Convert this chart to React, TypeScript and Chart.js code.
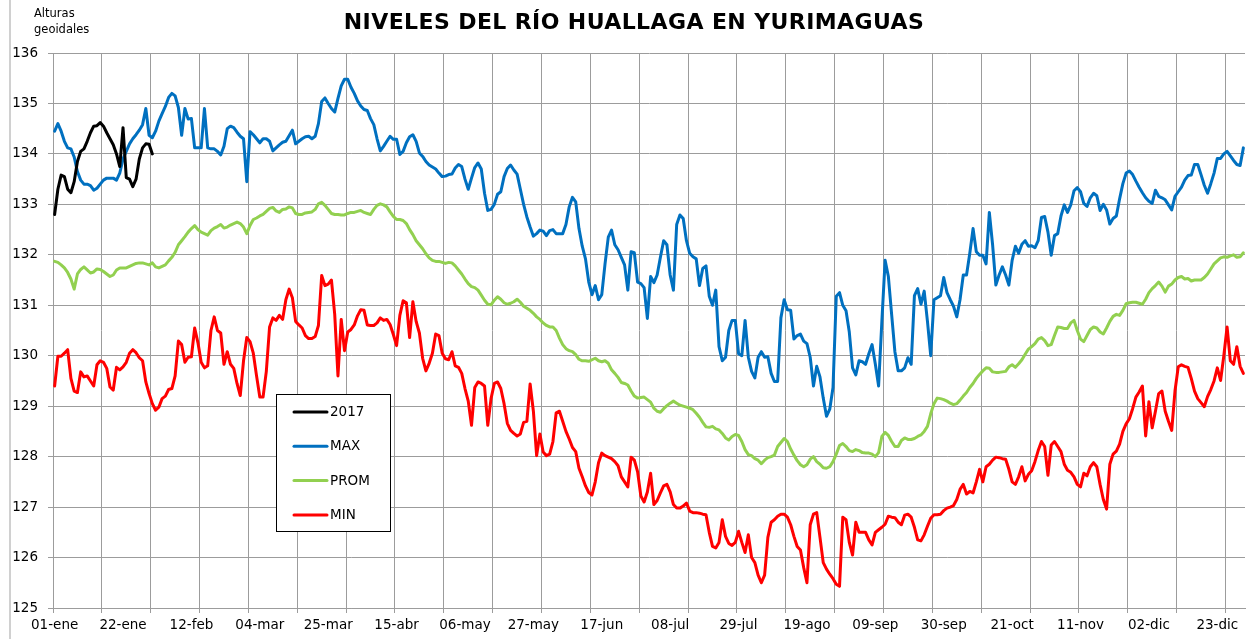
import React, { useEffect, useRef } from "react";
import { Chart, registerables } from "chart.js";

Chart.register(...registerables);

// ---- categories (leap-year calendar, one point per day) ----
const MONTH_NAMES = ["ene", "feb", "mar", "abr", "may", "jun", "jul", "ago", "sep", "oct", "nov", "dic"];
const MONTH_LENGTHS = [31, 29, 31, 30, 31, 30, 31, 31, 30, 31, 30, 31];
const categories: string[] = [];
MONTH_LENGTHS.forEach((n, m) => {
  for (let d = 1; d <= n; d++) categories.push(`${String(d).padStart(2, "0")}-${MONTH_NAMES[m]}`);
});

const LABEL_STEP = 21; // tick label every 21 days
const GRID_STEP = 15; // vertical grid line every 15 days
const Y_MIN = 125;
const Y_MAX = 136;

// ---- series ----
const serie2017 = [
  132.8, 133.3, 133.58, 133.55, 133.3, 133.23, 133.45, 133.85, 134.05, 134.1,
  134.25, 134.42, 134.55, 134.56, 134.62, 134.55, 134.42, 134.3, 134.18, 134.0,
  133.75, 134.52, 133.53, 133.5, 133.35, 133.5, 133.9, 134.12, 134.2, 134.19,
  134.0,
];

const serieMax = [
  134.45, 134.6, 134.45, 134.25, 134.12, 134.1, 133.94, 133.65, 133.48, 133.4,
  133.4, 133.37, 133.28, 133.32, 133.4, 133.48, 133.52, 133.52, 133.52, 133.48,
  133.62, 133.9, 134.05, 134.2, 134.3, 134.38, 134.47, 134.58, 134.9, 134.37,
  134.32, 134.45, 134.65, 134.8, 134.94, 135.12, 135.2, 135.15, 134.92, 134.37,
  134.9, 134.69, 134.7, 134.12, 134.12, 134.12, 134.9, 134.12, 134.1, 134.1,
  134.05, 133.98, 134.15, 134.5, 134.55, 134.52, 134.43, 134.35, 134.3, 133.45,
  134.44, 134.38, 134.3, 134.22, 134.3, 134.3, 134.25, 134.06, 134.12, 134.18,
  134.23, 134.25, 134.36, 134.47, 134.2, 134.25, 134.3, 134.34, 134.35, 134.3,
  134.35, 134.6, 135.04, 135.11, 135.0, 134.9, 134.83, 135.1, 135.35, 135.48,
  135.48, 135.32, 135.2, 135.05, 134.95, 134.88, 134.86, 134.7, 134.58, 134.3,
  134.06, 134.15, 134.25, 134.35, 134.29, 134.29, 133.99, 134.05, 134.22, 134.34,
  134.38, 134.25, 134.02, 133.95, 133.85, 133.78, 133.74, 133.7, 133.62, 133.55,
  133.56, 133.59, 133.6, 133.72, 133.79, 133.75, 133.5, 133.3, 133.52, 133.73,
  133.82, 133.7, 133.22, 132.88, 132.9, 133.0, 133.2, 133.25, 133.55, 133.71,
  133.78, 133.68, 133.6, 133.3, 133.0, 132.75, 132.55, 132.37, 132.42, 132.49,
  132.47, 132.38, 132.48, 132.5, 132.42, 132.42, 132.42, 132.6, 132.95, 133.14,
  133.05, 132.52, 132.17, 131.92, 131.46, 131.21, 131.39, 131.11, 131.21, 131.82,
  132.35, 132.49, 132.2, 132.1, 131.95, 131.8, 131.3, 132.06, 132.04, 131.46,
  131.43, 131.35, 130.74, 131.57, 131.45, 131.6, 131.95, 132.28, 132.2, 131.6,
  131.3, 132.6, 132.79, 132.72, 132.28, 132.03, 131.96, 131.92, 131.39, 131.73,
  131.78, 131.18, 131.0, 131.3, 130.18, 129.9, 129.97, 130.5, 130.7, 130.7,
  130.04, 130.0, 130.7, 129.97, 129.69, 129.56, 129.97, 130.08, 129.97, 129.98,
  129.65, 129.49, 129.49, 130.75, 131.11, 130.91, 130.9, 130.33, 130.4, 130.43,
  130.29, 130.24, 129.97, 129.4, 129.79, 129.58, 129.16, 128.8, 128.94, 129.37,
  131.18, 131.25, 131.0, 130.89, 130.47, 129.76, 129.62, 129.9, 129.88, 129.83,
  130.04, 130.22, 129.83, 129.4, 130.68, 131.89, 131.57, 130.82, 130.08, 129.7,
  129.7, 129.76, 129.96, 129.83, 131.19, 131.33, 131.02, 131.28, 130.68, 130.0,
  131.11, 131.15, 131.19, 131.55, 131.25, 131.11, 130.98, 130.77, 131.11, 131.6,
  131.6, 132.03, 132.52, 132.06, 131.99, 131.99, 131.82, 132.84, 132.2, 131.4,
  131.6, 131.76, 131.6, 131.4, 131.89, 132.17, 132.03, 132.21, 132.28, 132.17,
  132.18, 132.14, 132.28, 132.74, 132.76, 132.45, 131.99, 132.38, 132.42, 132.77,
  132.99, 132.84, 132.99, 133.27, 133.33, 133.25, 133.02, 132.96, 133.13, 133.22,
  133.17, 132.88, 133.0, 132.89, 132.61, 132.72, 132.77, 133.11, 133.41, 133.62,
  133.66, 133.59, 133.46, 133.34, 133.23, 133.13, 133.06, 133.02, 133.28, 133.16,
  133.13, 133.09, 132.99, 132.89, 133.16, 133.25, 133.34, 133.48, 133.57, 133.58,
  133.79, 133.79, 133.59, 133.38, 133.22, 133.41, 133.62, 133.91, 133.91, 134.0,
  134.05, 133.96, 133.87, 133.79, 133.77, 134.12,
];

const serieProm = [
  131.87, 131.85, 131.8, 131.74, 131.65, 131.52, 131.32, 131.62, 131.71, 131.76,
  131.7, 131.64, 131.66, 131.72, 131.71, 131.67, 131.62, 131.57, 131.6, 131.7,
  131.74, 131.74, 131.74, 131.77, 131.8, 131.83, 131.84, 131.84, 131.82, 131.8,
  131.84, 131.76, 131.74, 131.77, 131.8, 131.88, 131.95, 132.05, 132.2, 132.28,
  132.36, 132.45, 132.52, 132.58, 132.5, 132.45, 132.42, 132.39, 132.48, 132.53,
  132.56, 132.6, 132.53, 132.55, 132.59, 132.62, 132.65, 132.62, 132.55, 132.42,
  132.58, 132.7, 132.73, 132.77, 132.8, 132.86, 132.92, 132.94, 132.87, 132.84,
  132.9, 132.91, 132.95, 132.93, 132.82, 132.8, 132.8, 132.83, 132.84, 132.85,
  132.9, 133.01, 133.04, 132.98, 132.9, 132.82, 132.8, 132.8, 132.79, 132.79,
  132.82, 132.84, 132.84, 132.86, 132.88, 132.84, 132.82, 132.8, 132.9, 132.98,
  133.01, 132.99, 132.95, 132.85, 132.76, 132.7, 132.7, 132.68, 132.62, 132.5,
  132.4, 132.28, 132.2, 132.12, 132.02, 131.94, 131.89, 131.87, 131.87, 131.85,
  131.83, 131.85, 131.84, 131.78, 131.7, 131.62, 131.52, 131.43, 131.37, 131.35,
  131.3, 131.2, 131.1, 131.02, 131.01, 131.1, 131.17, 131.12, 131.05, 131.02,
  131.04, 131.07, 131.12, 131.06, 130.98, 130.94, 130.9, 130.84, 130.77, 130.72,
  130.65, 130.6, 130.57, 130.57, 130.5, 130.35, 130.22, 130.14, 130.1, 130.08,
  130.02, 129.93, 129.9, 129.9, 129.89, 129.92, 129.95, 129.9, 129.88, 129.9,
  129.85, 129.72, 129.65, 129.57, 129.47, 129.45, 129.42, 129.3, 129.2, 129.16,
  129.17, 129.18, 129.13, 129.08, 128.96, 128.9, 128.88, 128.95, 129.01, 129.06,
  129.1, 129.06, 129.02, 129.0, 128.98, 128.96, 128.93, 128.86, 128.78, 128.68,
  128.59, 128.58, 128.6, 128.55, 128.53, 128.46, 128.37, 128.33, 128.4, 128.44,
  128.42, 128.3, 128.14, 128.04, 128.02, 127.96, 127.93, 127.86, 127.93, 127.98,
  128.0, 128.03, 128.2, 128.28, 128.36, 128.3, 128.15, 128.03, 127.92, 127.84,
  127.8, 127.84, 127.95, 128.0, 127.9, 127.85, 127.78, 127.77, 127.8, 127.9,
  128.05, 128.22, 128.26, 128.2, 128.12, 128.1, 128.14, 128.12, 128.08, 128.07,
  128.07, 128.05, 128.0, 128.08, 128.4, 128.48, 128.42, 128.3, 128.2, 128.2,
  128.32, 128.37, 128.34, 128.34, 128.36, 128.4, 128.43, 128.5, 128.6, 128.85,
  129.05, 129.16, 129.15, 129.13, 129.1, 129.06, 129.03, 129.05, 129.12, 129.2,
  129.27, 129.37, 129.45, 129.55, 129.63, 129.7, 129.76, 129.75, 129.68, 129.67,
  129.67, 129.68, 129.69, 129.78, 129.82, 129.77, 129.84, 129.92, 130.03, 130.13,
  130.18, 130.24, 130.33, 130.36, 130.3, 130.2, 130.22, 130.4, 130.57, 130.56,
  130.54, 130.54, 130.65, 130.7, 130.5, 130.33, 130.28, 130.4, 130.52, 130.57,
  130.55, 130.47, 130.43, 130.55, 130.68, 130.78, 130.82, 130.8, 130.9, 131.03,
  131.05, 131.06, 131.06, 131.04, 131.02, 131.12, 131.25, 131.33, 131.39, 131.46,
  131.38, 131.26, 131.38, 131.42, 131.5, 131.55, 131.57, 131.52, 131.53, 131.48,
  131.5, 131.5, 131.5, 131.55, 131.62, 131.72, 131.82, 131.88, 131.94, 131.96,
  131.95, 131.98, 132.0, 131.95, 131.96, 132.04,
];

const serieMin = [
  129.4, 129.99, 129.99, 130.05, 130.12, 129.55, 129.3, 129.27, 129.68, 129.58,
  129.6, 129.5, 129.4, 129.82, 129.9, 129.87, 129.75, 129.38, 129.32, 129.77,
  129.72, 129.78, 129.87, 130.05, 130.12, 130.06, 129.96, 129.9, 129.48, 129.25,
  129.05, 128.92, 128.98, 129.15, 129.2, 129.33, 129.35, 129.6, 130.29, 130.22,
  129.87, 129.97, 129.98, 130.55, 130.26, 129.87, 129.76, 129.8, 130.5, 130.77,
  130.5, 130.45, 129.83, 130.08, 129.83, 129.75, 129.45, 129.21, 129.9, 130.36,
  130.28, 130.05, 129.6, 129.18, 129.18, 129.69, 130.57, 130.75, 130.7, 130.8,
  130.72, 131.11, 131.32, 131.15, 130.68, 130.61, 130.55, 130.4, 130.34, 130.34,
  130.38, 130.6, 131.59, 131.39, 131.42, 131.5, 130.82, 129.6, 130.72, 130.1,
  130.47, 130.52, 130.61, 130.79, 130.91, 130.9, 130.61, 130.6, 130.6, 130.65,
  130.75, 130.7, 130.72, 130.62, 130.42, 130.2, 130.8, 131.09, 131.05, 130.36,
  131.07, 130.68, 130.45, 129.95, 129.7, 129.85, 130.05, 130.43, 130.4, 130.05,
  129.94, 129.92, 130.08, 129.8, 129.77, 129.65, 129.35, 129.1, 128.62, 129.37,
  129.48, 129.45, 129.4, 128.62, 129.15, 129.45, 129.48, 129.35, 129.05, 128.66,
  128.52, 128.46, 128.41, 128.45, 128.68, 128.7, 129.44, 128.9, 128.02, 128.45,
  128.09, 128.02, 128.05, 128.3, 128.87, 128.9, 128.7, 128.5, 128.35, 128.18,
  128.1, 127.77, 127.6, 127.42, 127.29, 127.24, 127.5, 127.88, 128.07, 128.02,
  127.99, 127.96, 127.9, 127.82, 127.6, 127.5, 127.4, 127.99, 127.93, 127.7,
  127.22, 127.1, 127.3, 127.67, 127.05, 127.13, 127.28, 127.42, 127.45, 127.3,
  127.05, 126.98, 126.98, 127.02, 127.08, 126.92, 126.89, 126.89, 126.88, 126.86,
  126.85, 126.5, 126.22, 126.19, 126.3, 126.75, 126.42, 126.28, 126.24, 126.3,
  126.52, 126.3, 126.1, 126.45, 126.0, 125.9, 125.65, 125.5, 125.65, 126.4,
  126.7, 126.75, 126.82, 126.86, 126.86, 126.8, 126.65, 126.42, 126.22, 126.15,
  125.8, 125.5, 126.65, 126.86, 126.89, 126.4, 125.9, 125.77, 125.67, 125.58,
  125.47, 125.43, 126.8, 126.75, 126.3, 126.05, 126.7, 126.5, 126.5, 126.5,
  126.35, 126.25, 126.5, 126.55, 126.6, 126.66, 126.82, 126.8, 126.79, 126.7,
  126.65, 126.84, 126.86, 126.8, 126.6, 126.35, 126.33, 126.45, 126.62, 126.78,
  126.85, 126.85, 126.86, 126.93, 126.98, 127.0, 127.03, 127.15, 127.35, 127.45,
  127.26, 127.31, 127.28, 127.5, 127.75, 127.5, 127.8, 127.85, 127.93, 127.99,
  127.98, 127.96, 127.95, 127.75, 127.5, 127.45, 127.6, 127.8, 127.52, 127.65,
  127.72, 127.9, 128.12, 128.3, 128.2, 127.63, 128.23, 128.3, 128.2, 128.1,
  127.85, 127.73, 127.69, 127.6, 127.45, 127.4, 127.67, 127.62, 127.8, 127.88,
  127.8, 127.45, 127.15, 126.96, 127.85, 128.05, 128.11, 128.25, 128.5, 128.65,
  128.75, 128.95, 129.18, 129.28, 129.4, 128.41, 129.09, 128.57, 128.9, 129.25,
  129.3, 128.9, 128.7, 128.52, 129.3, 129.78, 129.82, 129.79, 129.77, 129.55,
  129.3, 129.15, 129.07, 128.99, 129.19, 129.33, 129.5, 129.76, 129.51, 130.0,
  130.57, 129.9, 129.83, 130.18, 129.79, 129.65,
];

const SERIES_NAMES = ["2017", "MAX", "PROM", "MIN"];
const SERIES_COLORS = ["#000000", "#0070C0", "#92D050", "#FF0000"];

const FONT = "'DejaVu Sans', sans-serif";
const GRID = "#9c9c9c";
const W = 1251;
const H = 639;

const boxLegend = {
  id: "boxLegend",
  afterDraw(chart: any) {
    const ctx = chart.ctx as CanvasRenderingContext2D;
    ctx.save();
    const x0 = 276.5, y0 = 394.5, w = 114, h = 137;
    ctx.fillStyle = "#ffffff";
    ctx.fillRect(x0, y0, w, h);
    ctx.strokeStyle = "#000000";
    ctx.lineWidth = 1;
    ctx.strokeRect(x0, y0, w, h);
    chart.data.datasets.forEach((ds: any, i: number) => {
      const y = 412 + i * 34.3;
      ctx.strokeStyle = ds.borderColor;
      ctx.lineWidth = 3;
      ctx.lineCap = "round";
      ctx.beginPath();
      ctx.moveTo(294, y);
      ctx.lineTo(327, y);
      ctx.stroke();
      ctx.fillStyle = "#000000";
      ctx.font = `13.5px ${FONT}`;
      ctx.textBaseline = "middle";
      ctx.textAlign = "left";
      ctx.fillText(ds.label, 330, y + 0.5);
    });
    ctx.restore();
  },
};

export default function App() {
  const ref = useRef<HTMLCanvasElement | null>(null);

  useEffect(() => {
    if (!ref.current) return;
    const seriesData = [serie2017, serieMax, serieProm, serieMin];
    const chart = new Chart(ref.current, {
      type: "line",
      data: {
        labels: categories,
        datasets: seriesData.map((d, i) => ({
          label: SERIES_NAMES[i],
          data: d,
          borderColor: SERIES_COLORS[i],
          backgroundColor: SERIES_COLORS[i],
          borderWidth: 3,
          pointRadius: 0,
          tension: 0,
          borderJoinStyle: "round" as const,
          borderCapStyle: "round" as const,
          fill: false,
        })),
      },
      options: {
        responsive: false,
        maintainAspectRatio: false,
        animation: false,
        devicePixelRatio: 1,
        layout: { padding: { left: 0, right: 6, top: 53, bottom: 0 } },
        plugins: {
          legend: { display: false },
          tooltip: { enabled: false },
          title: { display: false },
        },
        scales: {
          x: {
            type: "category",
            offset: true,
            grid: {
              offset: true,
              drawTicks: true,
              tickLength: 5,
              lineWidth: 1,
              color: (c: any) => (c.index % GRID_STEP === 0 ? GRID : "rgba(0,0,0,0)"),
              tickColor: (c: any) => (c.index % GRID_STEP === 0 ? GRID : "rgba(0,0,0,0)"),
            },
            border: { display: true, color: GRID },
            ticks: {
              autoSkip: false,
              maxRotation: 0,
              minRotation: 0,
              padding: 4,
              color: "#000000",
              font: { family: FONT, size: 13.5 },
              callback: (_v: any, i: number) => (i % LABEL_STEP === 0 ? categories[i] : ""),
            },
            afterFit: (s: any) => {
              s.height = 31;
            },
          },
          y: {
            min: Y_MIN,
            max: Y_MAX,
            grid: { color: GRID, tickLength: 5, lineWidth: 1 },
            border: { display: true, color: GRID },
            ticks: {
              stepSize: 1,
              padding: 10,
              color: "#000000",
              font: { family: FONT, size: 13.5 },
            },
            afterFit: (s: any) => {
              s.width = 53;
            },
          },
        },
      },
      plugins: [boxLegend],
    });
    return () => chart.destroy();
  }, []);

  return (
    <div style={{ position: "absolute", left: 0, top: 0, width: W, height: H, background: "#ffffff", overflow: "hidden" }}>
      <div style={{ position: "absolute", left: 9, top: 0, width: 2, height: H, background: "#d0d0d0" }} />
      <canvas ref={ref} width={W} height={H} style={{ position: "absolute", left: 0, top: 0, display: "block" }} />
      <div
        style={{
          position: "absolute",
          left: 0,
          top: 11,
          width: 1268,
          textAlign: "center",
          fontFamily: FONT,
          fontWeight: "bold",
          fontSize: 22,
          letterSpacing: "0.4px",
          lineHeight: "22px",
          color: "#000000",
          whiteSpace: "nowrap",
        }}
      >
        NIVELES DEL RÍO HUALLAGA EN YURIMAGUAS
      </div>
      <div
        style={{
          position: "absolute",
          left: 34,
          top: 5,
          fontFamily: FONT,
          fontSize: 11.5,
          lineHeight: "16px",
          color: "#000000",
          whiteSpace: "nowrap",
        }}
      >
        Alturas
        <br />
        geoidales
      </div>
    </div>
  );
}
